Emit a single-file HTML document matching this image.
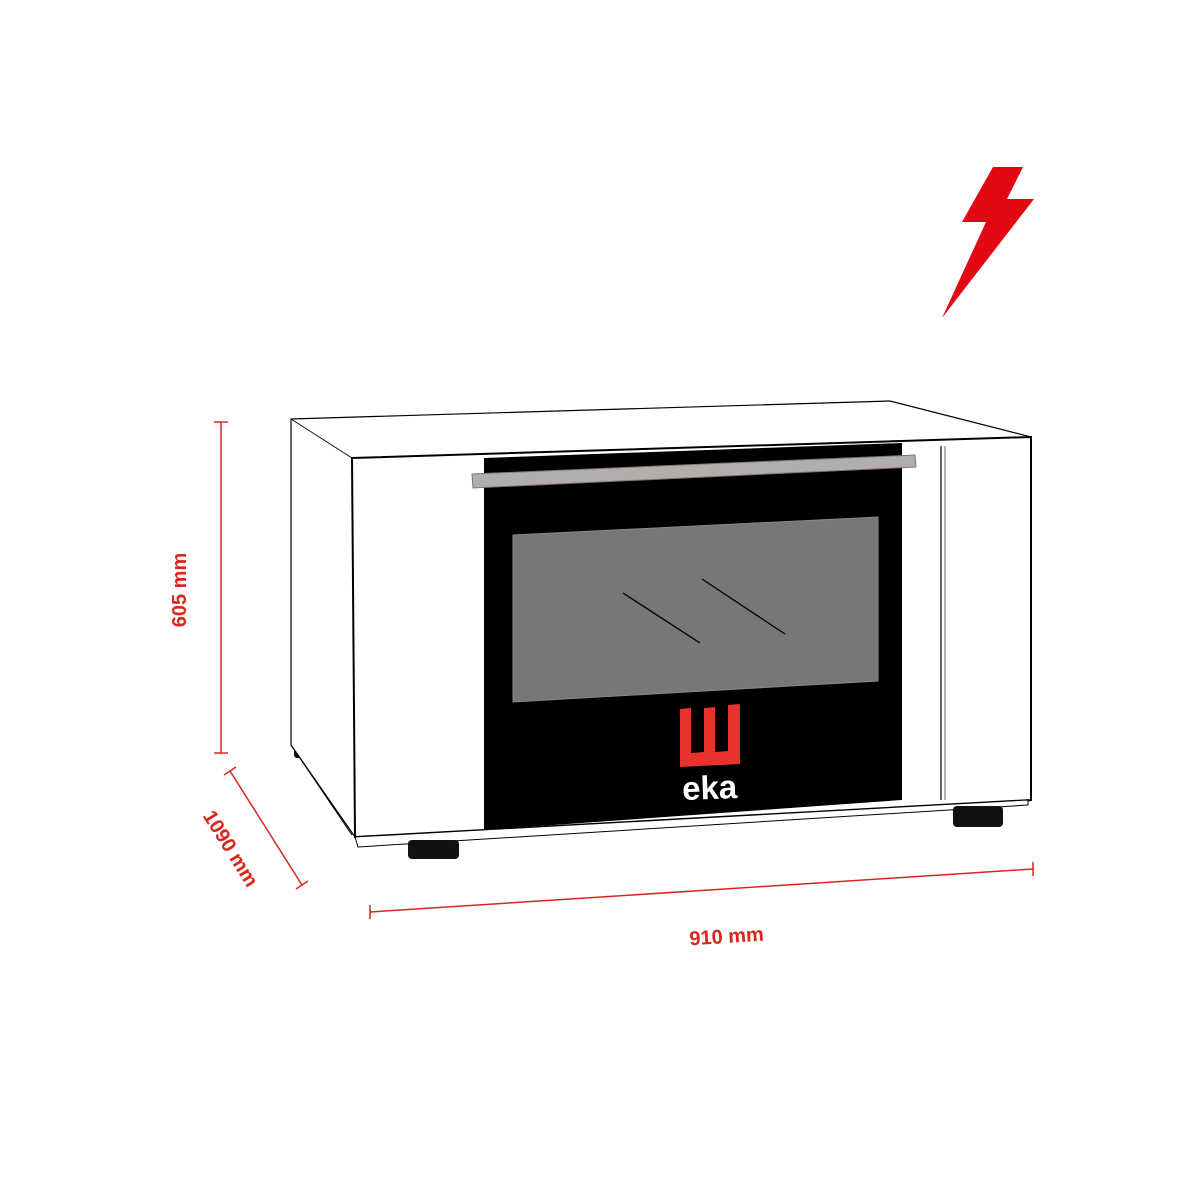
<!DOCTYPE html>
<html><head><style>body{margin:0;background:#fff}svg{display:block}</style></head><body>
<svg width="1200" height="1200" viewBox="0 0 1200 1200" xmlns="http://www.w3.org/2000/svg">
<rect width="1200" height="1200" fill="#fff"/>
<polygon points="993,167 1023,167 1007,199 1034,199 942,318 986,222 962,222" fill="#e30613"/>
<rect x="294" y="742" width="12" height="16" rx="3" fill="#111"/>
<polygon points="291,419 890,401 1031,437 1031,800 355,837 291,745" fill="#fff" stroke="#000" stroke-width="1.2"/>
<line x1="291" y1="419" x2="352" y2="458" stroke="#000" stroke-width="0.8"/>
<line x1="291" y1="745" x2="352" y2="835" stroke="#000" stroke-width="1"/>
<polygon points="352,458 1031,437 1031,800 355,837" fill="#fff" stroke="#000" stroke-width="2"/>
<polygon points="355,837 1028,800 1028,805 358,847" fill="#fff" stroke="#000" stroke-width="1"/>
<polygon points="484,458 902,443 902,800 484,830" fill="#000"/>
<line x1="941" y1="446" x2="941" y2="800" stroke="#000" stroke-width="1.2"/>
<line x1="945" y1="446" x2="945" y2="800" stroke="#000" stroke-width="0.6"/>
<polygon points="472,474 915,455 916,467 473,488" fill="#b3adab" stroke="#777" stroke-width="1"/>
<polygon points="513,535 878,517 878,681 513,702" fill="#777" stroke="#888" stroke-width="1"/>
<line x1="623" y1="593" x2="700" y2="643" stroke="#000" stroke-width="1.3"/>
<line x1="702" y1="579" x2="785" y2="634" stroke="#000" stroke-width="1.3"/>
<path d="M680,709 L691,708 L691,753 L704,752 L704,708 L715,707 L715,752 L728,751 L728,705 L740,704 L740,764 L680,767 Z" fill="#e8322e"/>
<text x="710" y="799" fill="#fff" font-family="Liberation Sans, sans-serif" font-weight="bold" font-size="33" text-anchor="middle" transform="rotate(-2 710 799)">eka</text>
<rect x="408" y="840" width="51" height="19" rx="4" fill="#111"/>
<rect x="953" y="806" width="50" height="21" rx="4" fill="#111"/>
<g stroke="#d9261c" stroke-width="1.5">
<line x1="221" y1="422" x2="221" y2="753"/><line x1="214" y1="422" x2="228" y2="422"/><line x1="214" y1="753" x2="228" y2="753"/>
<line x1="230" y1="771" x2="302" y2="885"/><line x1="224" y1="775" x2="236" y2="767"/><line x1="296" y1="889" x2="308" y2="881"/>
<line x1="370" y1="912" x2="1033" y2="869"/><line x1="370" y1="905" x2="370" y2="919"/><line x1="1033" y1="862" x2="1033" y2="876"/>
</g>
<g fill="#d9261c" font-family="Liberation Sans, sans-serif" font-weight="bold" font-size="20">
<text x="186" y="590" text-anchor="middle" transform="rotate(-90 186 590)">605 mm</text>
<text x="225" y="852" text-anchor="middle" transform="rotate(58 225 852)">1090 mm</text>
<text x="727" y="943" text-anchor="middle" transform="rotate(-3.7 727 943)">910 mm</text>
</g>
</svg>
</body></html>
